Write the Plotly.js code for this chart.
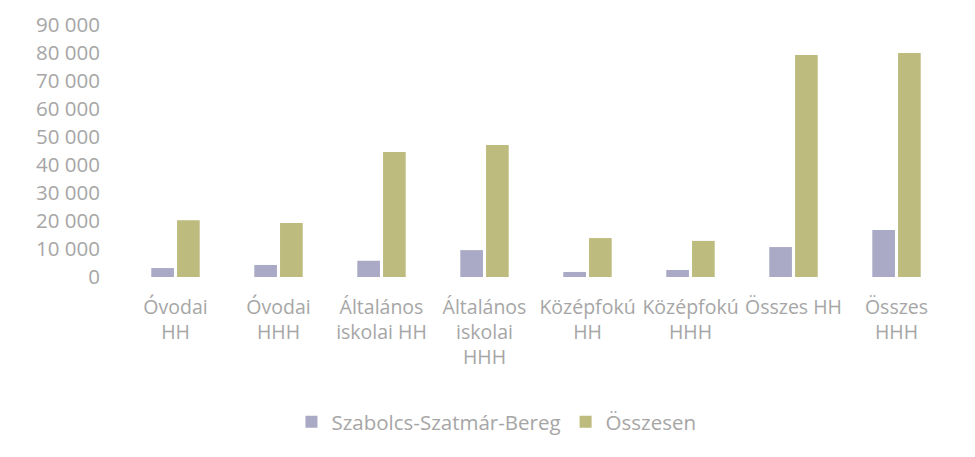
<!DOCTYPE html>
<html>
<head>
<meta charset="utf-8">
<script src="https://cdn.plot.ly/plotly-3.0.1.min.js"></script>
<style>html,body{margin:0;padding:0;background:#fff;}#chart{width:975px;height:457px;}</style>
</head>
<body>
<div id="chart"></div>
<script>
const categories = ["Óvodai<br>HH", "Óvodai<br>HHH", "Általános<br>iskolai HH", "Általános<br>iskolai<br>HHH", "Középfokú<br>HH", "Középfokú<br>HHH", "Összes HH", "Összes<br>HHH"];
const seriesNames = ["Szabolcs-Szatmár-Bereg", "Összesen"];
const szabolcs = [3200, 4300, 5800, 9600, 1800, 2500, 10700, 16800];
const osszesen = [20300, 19300, 44600, 47100, 13900, 12900, 79300, 80000];
const yTicks = [0, 10000, 20000, 30000, 40000, 50000, 60000, 70000, 80000, 90000];

const textColor = "#a6a6a6";
const fam = "Open Sans, sans-serif";
const xFont = {family: fam, size: 19.5, color: textColor};
const yFont = {family: fam, size: 20.5, color: textColor};
const legFont = {family: fam, size: 20.5, color: textColor};

const data = [
  {type: "bar", name: seriesNames[0], x: categories, y: szabolcs, marker: {color: "#aaaac6"}, hoverinfo: "skip"},
  {type: "bar", name: seriesNames[1], x: categories, y: osszesen, marker: {color: "#bdbb7d"}, hoverinfo: "skip"}
];

const layout = {
  width: 975, height: 457,
  margin: {l: 124, r: 27, t: 25, b: 180},
  paper_bgcolor: "#ffffff", plot_bgcolor: "#ffffff",
  separators: ", ",
  font: xFont,
  barmode: "group",
  bargap: 0.5,
  bargroupgap: 0.12,
  showlegend: true,
  legend: {orientation: "h", x: 0.452, xanchor: "center", y: -0.575, yanchor: "middle", font: legFont, itemwidth: 30, traceorder: "normal"},
  xaxis: {type: "category", showgrid: false, zeroline: false, showline: false, ticks: "", tickfont: xFont, ticklabelstandoff: 16, tickangle: 0},
  yaxis: {range: [0, 90000], tickvals: yTicks, tickformat: ",d", showgrid: false, zeroline: false, showline: false, ticks: "", tickfont: yFont, ticklabelstandoff: 23}
};

Plotly.newPlot("chart", data, layout, {staticPlot: true, displayModeBar: false});
</script>
</body>
</html>
